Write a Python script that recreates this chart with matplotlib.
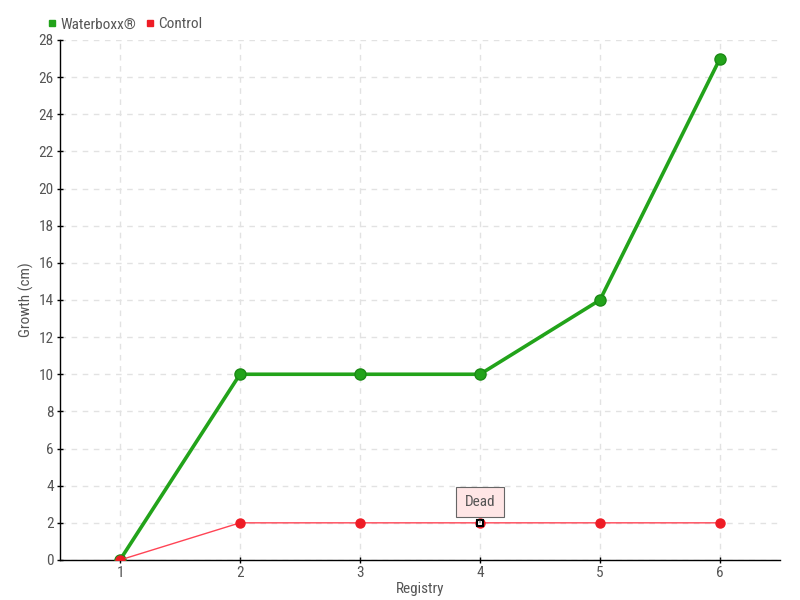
import matplotlib
matplotlib.use("Agg")
import matplotlib.pyplot as plt
from matplotlib import font_manager

registry = [1, 2, 3, 4, 5, 6]
waterboxx = [0, 10, 10, 10, 14, 27]
control = [0, 2, 2, 2, 2, 2]
y_ticks = list(range(0, 29, 2))
annot_x, annot_y, annot_text = 4, 2, "Dead"

names = {f.name for f in font_manager.fontManager.ttflist}
fam = next((f for f in ["Roboto Condensed", "Liberation Sans Narrow", "Roboto", "DejaVu Sans"] if f in names), "DejaVu Sans")
plt.rcParams['font.family'] = [fam, 'DejaVu Sans']

fig = plt.figure(figsize=(8, 6), dpi=100)
ax = fig.add_axes([0.075, 0.0667, 0.9, 0.8667])

green = "#22a31a"
red = "#ee1c25"
txt = '#555555'
fs = 11

ax.plot(registry, waterboxx, color=green, lw=2.6, marker='o', ms=8,
        mfc=green, mec="#1a8a14", mew=1, zorder=4, label="Waterboxx®")
ax.plot(registry, control, color="#ff4455", lw=1, marker='o', ms=6.5,
        mfc=red, mec=red, zorder=5, label="Control")

# highlighted "Dead" point
ax.plot([annot_x], [annot_y], marker='s', ms=5, mfc='white', mec='black',
        mew=1.5, zorder=6)
ax.annotate(annot_text, xy=(annot_x, annot_y), xytext=(0, 15),
            textcoords='offset points', ha='center', va='center',
            fontsize=fs, color=txt,
            bbox=dict(boxstyle='square,pad=0.55', fc='#ffe6e6', ec='#666666', lw=0.8),
            arrowprops=dict(arrowstyle='-', color='#666666', lw=0.8, shrinkB=3), zorder=7)

ax.set_xlim(0.5, 6.5)
ax.set_ylim(0, 28)
ax.set_xticks(registry)
ax.set_yticks(y_ticks)
ax.grid(True, color='#e2e2e2', ls=(0, (4, 4)), lw=1)
ax.set_axisbelow(True)
for s in ['top', 'right']:
    ax.spines[s].set_visible(False)
for s in ['left', 'bottom']:
    ax.spines[s].set_color('black')
    ax.spines[s].set_linewidth(1)
ax.tick_params(direction='inout', length=5, width=1, colors='black',
               labelcolor=txt, labelsize=fs, pad=2)
ax.set_xlabel("Registry", color=txt, fontsize=fs, labelpad=1)
ax.set_ylabel("Growth (cm)", color=txt, fontsize=fs, labelpad=3)

leg = ax.legend(loc='lower left', bbox_to_anchor=(-0.035, 0.99), ncol=2,
                frameon=False, fontsize=fs, handlelength=0.5, handletextpad=0.3,
                columnspacing=0.6, labelcolor=txt)
for h, c in zip(leg.legend_handles, [green, red]):
    h.set_linestyle('')
    h.set_marker('s')
    h.set_markersize(4.5)
    h.set_markerfacecolor(c)
    h.set_markeredgecolor(c)

fig.savefig("out.png", dpi=100)
